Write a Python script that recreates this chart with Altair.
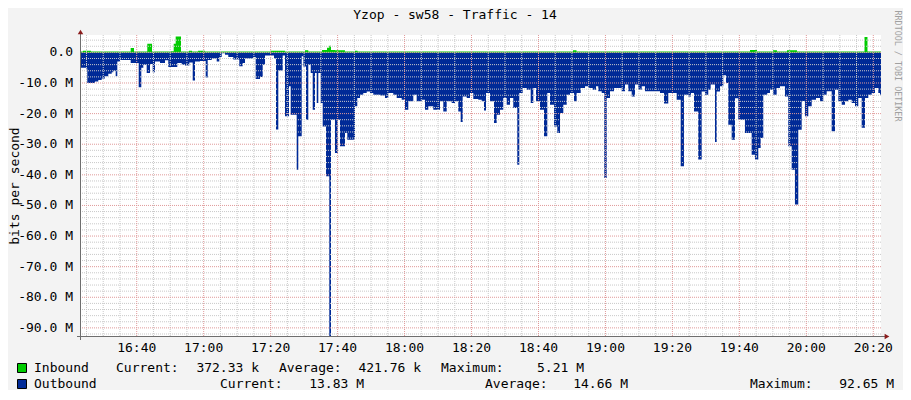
import altair as alt
import pandas as pd

TITLE = "Yzop - sw58 - Traffic - 14"
Y_TITLE = "bits per second"
CREDIT = "RRDTOOL / TOBI OETIKER"

# Outbound traffic (Mbit/s, drawn downwards); time = minutes after 16:00
out_min = [23.36, 24.85, 25.24, 27.54, 28.53, 29.54, 30.53, 31.51, 32.53, 33.01,
           33.72, 34.20, 35.01, 38.20, 40.59, 41.37, 41.97, 42.98, 43.97, 44.77,
           45.46, 46.95, 48.45, 49.43, 52.12, 53.44, 54.42, 55.71, 56.72, 57.41,
           58.90, 60.60, 61.20, 62.40, 63.89, 64.67, 65.38, 66.37, 67.35, 68.85,
           70.64, 71.65, 72.34, 74.82, 75.54, 76.82, 77.63, 78.32, 81.00, 81.60,
           82.29, 83.60, 84.29, 85.48, 85.99, 87.78, 88.26, 89.28, 89.76, 90.56,
           91.25, 91.97, 92.56, 93.25, 93.76, 94.24, 94.95, 95.55, 96.54, 97.52,
           98.03, 99.22, 100.03, 100.71, 102.21, 102.90, 105.20, 105.88, 106.69, 107.67,
           108.69, 109.67, 110.66, 112.66, 114.15, 115.14, 116.63, 117.65, 119.14, 120.13,
           121.12, 122.61, 123.62, 125.12, 126.10, 127.09, 128.58, 130.58, 131.57, 132.58,
           134.08, 135.06, 136.05, 136.76, 137.36, 138.56, 139.54, 140.53, 142.02, 143.04,
           143.72, 144.32, 145.51, 146.71, 147.51, 148.50, 149.48, 150.50, 151.49, 152.47,
           153.67, 154.27, 155.28, 156.48, 157.67, 158.45, 159.26, 160.45, 161.65, 162.63,
           163.44, 164.63, 165.62, 166.43, 167.41, 168.43, 169.41, 170.61, 171.41, 172.61,
           173.89, 174.88, 176.19, 177.18, 177.86, 178.88, 179.65, 180.37, 181.36, 182.55,
           184.85, 185.84, 186.82, 187.84, 188.82, 189.81, 190.83, 191.81, 196.29, 197.48,
           198.77, 201.27, 202.47, 203.45, 204.74, 205.54, 206.44, 207.72, 208.74, 209.73,
           210.71, 211.43, 212.72, 213.22, 214.21, 215.20, 216.00, 216.69, 217.70, 218.69,
           219.67, 221.67, 223.67, 224.66, 225.65, 226.36, 227.14, 228.33, 229.14, 230.12,
           231.14, 232.12, 233.62, 234.60, 235.62, 236.60, 237.59, 238.61, 239.59, 240.58,
           241.60, 242.88, 244.08, 245.06, 246.08, 247.57, 248.56, 249.55, 250.56, 251.55,
           252.53, 253.55, 254.53, 255.52, 256.53, 257.52, 258.51, 259.52, 260.51, 261.50,
           262.01, 262.40]
out_mbps = [5.0, 5.3, 10.0, 9.5, 9.0, 8.5, 7.8, 7.0, 6.5, 6.0,
            7.8, 3.0, 2.5, 3.5, 11.4, 5.0, 4.0, 6.7, 3.8, 6.5,
            3.0, 3.5, 2.6, 4.8, 3.5, 4.0, 4.3, 3.3, 9.2, 3.0,
            2.8, 8.2, 2.5, 2.0, 3.0, 1.5, 0.3, 0.8, 1.5, 2.3,
            4.5, 3.5, 2.0, 1.5, 8.7, 8.0, 4.0, 1.0, 2.0, 25.2,
            5.9, 1.0, 20.9, 11.1, 20.4, 38.3, 27.4, 1.3, 4.6, 22.0,
            4.0, 6.7, 18.7, 6.7, 16.5, 6.7, 16.5, 24.2, 40.5, 92.65,
            22.0, 32.9, 22.0, 30.7, 26.3, 28.5, 17.6, 14.9, 13.8, 13.3,
            12.8, 13.3, 13.8, 14.1, 14.9, 13.3, 13.8, 14.9, 15.5, 18.7,
            16.0, 13.8, 16.0, 15.5, 18.7, 17.6, 18.7, 16.0, 19.3, 16.0,
            16.5, 16.0, 19.3, 22.7, 14.4, 14.9, 13.3, 15.2, 15.5, 16.0,
            19.0, 13.3, 16.0, 23.1, 20.4, 18.7, 14.9, 17.1, 14.9, 18.2,
            36.7, 13.3, 11.6, 12.2, 16.5, 11.6, 16.0, 18.7, 27.4, 13.3,
            17.1, 24.2, 26.3, 19.8, 17.1, 13.8, 13.3, 16.0, 13.3, 11.6,
            11.1, 11.6, 12.2, 11.1, 12.7, 13.3, 41.0, 14.9, 12.7, 11.6,
            12.7, 10.5, 12.7, 14.4, 10.5, 12.2, 11.1, 12.7, 13.3, 16.7,
            13.3, 15.5, 37.2, 13.8, 14.4, 13.3, 19.3, 35.0, 12.8, 13.8,
            12.2, 10.5, 29.3, 12.8, 11.1, 7.5, 10.0, 23.6, 28.5, 15.0,
            22.0, 26.3, 33.4, 35.0, 31.2, 28.0, 13.8, 13.3, 12.2, 13.8,
            11.6, 11.1, 14.4, 30.7, 38.3, 49.7, 25.3, 15.9, 20.9, 17.6,
            15.5, 14.9, 16.0, 13.8, 12.7, 25.8, 12.2, 16.0, 17.1, 16.0,
            15.5, 16.5, 17.6, 14.9, 24.6, 14.9, 13.8, 13.3, 11.6, 13.3,
            13.83, 13.83]

# Inbound traffic (Mbit/s, drawn upwards)
in_min = [23.36, 23.96, 26.35, 38.20, 39.19, 43.16, 44.57, 49.94, 51.05, 51.64,
          53.23, 55.62, 56.51, 58.30, 60.39, 79.81, 84.29, 90.26, 91.25, 95.34,
          96.84, 97.52, 98.03, 99.22, 102.21, 105.20, 105.95, 170.31, 171.36, 223.17,
          225.26, 230.04, 231.23, 234.22, 237.21, 257.37, 258.26, 262.40]
in_mbps = [0.3, 0.5, 0.3, 1.4, 0.3, 2.8, 0.3, 0.4, 2.8, 5.21,
           0.3, 0.5, 0.3, 0.5, 0.3, 0.5, 0.3, 0.7, 0.3, 0.8,
           1.5, 2.2, 0.8, 0.7, 0.3, 0.5, 0.3, 0.7, 0.3, 0.8,
           0.3, 0.7, 0.3, 0.7, 0.3, 5.0, 0.3, 0.37]

legend_rows = [
    ("Inbound", [("Current:", "372.33 k"), ("Average:", "421.76 k"), ("Maximum:", "5.21 M")]),
    ("Outbound", [("Current:", "13.83 M"), ("Average:", "14.66 M"), ("Maximum:", "92.65 M")]),
]

IN_COLOR = "#00cc00"
OUT_COLOR = "#002a97"
MINOR = "#c9c9c9"
MAJOR = "#e09a9a"
AXIS = "#6e6e6e"
ARROW = "#8b1c1c"
FONT = "DejaVu Sans Mono"

T0 = 960  # 16:00 in minutes of day
X_DOMAIN = [983.36, 1222.3]
Y_DOMAIN = [-92.65, 5.68]

x_major = [1000 + 20 * i for i in range(12)]
x_minor = [m for m in range(985, 1222, 5) if m % 20 != 0]
y_major = [-10 * i for i in range(10)]
y_minor = [v for v in range(-92, 6, 2) if v % 10 != 0]
x_labels = [f"{v // 60}:{v % 60:02d}" for v in x_major]
y_labels = ["0.0" if v == 0 else f"-{-v:.1f} M" for v in y_major]

out_df = pd.DataFrame({"t": [T0 + m for m in out_min], "v": [-v for v in out_mbps]})
in_df = pd.DataFrame({"t": [T0 + m for m in in_min], "v": in_mbps})

xscale = alt.Scale(domain=X_DOMAIN, nice=False, zero=False)
yscale = alt.Scale(domain=Y_DOMAIN, nice=False, zero=False)

out_area = alt.Chart(out_df).mark_area(interpolate="step-after", color=OUT_COLOR, clip=True).encode(
    x=alt.X("t:Q", scale=xscale, axis=None),
    y=alt.Y("v:Q", scale=yscale, axis=None),
    y2=alt.datum(0),
)
in_area = alt.Chart(in_df).mark_area(interpolate="step-after", color=IN_COLOR, clip=True).encode(
    x=alt.X("t:Q", scale=xscale, axis=None),
    y=alt.Y("v:Q", scale=yscale, axis=None),
    y2=alt.datum(0),
)

def vgrid(vals, color):
    return alt.Chart(pd.DataFrame({"g": vals})).mark_rule(color=color, strokeDash=[1, 1], strokeWidth=1).encode(
        x=alt.X("g:Q", scale=xscale, axis=None))

def hgrid(vals, color):
    return alt.Chart(pd.DataFrame({"g": vals})).mark_rule(color=color, strokeDash=[1, 1], strokeWidth=1).encode(
        y=alt.Y("g:Q", scale=yscale, axis=None))

one = pd.DataFrame({"d": [0]})

def text(s, x, y, size=13, align="left", angle=0, color="#000000"):
    return alt.Chart(pd.DataFrame({"s": [s]})).mark_text(
        font=FONT, fontSize=size, align=align, baseline="middle", angle=angle, color=color
    ).encode(text="s:N", x=alt.value(x), y=alt.value(y))

layers = [out_area, in_area,
          vgrid(x_minor, MINOR), hgrid(y_minor, MINOR),
          vgrid(x_major, MAJOR), hgrid(y_major, MAJOR)]

# tick labels
layers.append(alt.Chart(pd.DataFrame({"v": x_major, "lab": x_labels})).mark_text(
    font=FONT, fontSize=13, align="center", baseline="middle", color="#000000").encode(
    x=alt.X("v:Q", scale=xscale, axis=None), y=alt.value(313), text="lab:N"))
layers.append(alt.Chart(pd.DataFrame({"v": y_major, "lab": y_labels})).mark_text(
    font=FONT, fontSize=13, align="right", baseline="middle", color="#000000").encode(
    y=alt.Y("v:Q", scale=yscale, axis=None), x=alt.value(-8), text="lab:N"))

# axis lines and arrows
layers.append(alt.Chart(one).mark_rule(color=AXIS, strokeWidth=1).encode(
    x=alt.value(-0.5), y=alt.value(-2), y2=alt.value(305)))
layers.append(alt.Chart(one).mark_rule(color=AXIS, strokeWidth=1).encode(
    x=alt.value(-4), x2=alt.value(804), y=alt.value(301.5)))
layers.append(alt.Chart(one).mark_point(shape="triangle-up", filled=True, size=30, color=ARROW, opacity=1).encode(
    x=alt.value(-0.5), y=alt.value(-3)))
layers.append(alt.Chart(one).mark_point(shape="triangle-right", filled=True, size=30, color=ARROW, opacity=1).encode(
    x=alt.value(806), y=alt.value(301.5)))

# titles
layers.append(text(TITLE, 374, -20, size=13, align="center"))
layers.append(text(Y_TITLE, -66, 151, size=13, align="center", angle=270))
layers.append(text(CREDIT, 817, 31, size=8.4, align="center", angle=90, color="#a0a0a0"))

# legend
row_y = [333, 349]
col_x = [[(35, 178), (198, 340), (360, 503)], [(139, 283), (404, 547), (669, 813)]]
colors = [IN_COLOR, OUT_COLOR]
for i, (name, stats) in enumerate(legend_rows):
    y = row_y[i]
    layers.append(alt.Chart(one).mark_rect(color=colors[i], stroke="#000000", strokeWidth=1).encode(
        x=alt.value(-63.5), x2=alt.value(-54.5), y=alt.value(y - 4.5), y2=alt.value(y + 4.5)))
    layers.append(text(name, -47, y))
    for (lab, val), (lx, vx) in zip(stats, col_x[i]):
        layers.append(text(lab, lx, y))
        layers.append(text(val, vx, y, align="right"))

chart = alt.layer(*layers).properties(
    width=800, height=301,
    padding={"left": 73, "top": 27, "right": 22, "bottom": 54},
    autosize=alt.AutoSizeParams(type="none"),
    background="#f3f3f3",
).configure_view(stroke=None, fill="#ffffff")

chart.save("out.html", embed_options={"renderer": "svg", "actions": False})
